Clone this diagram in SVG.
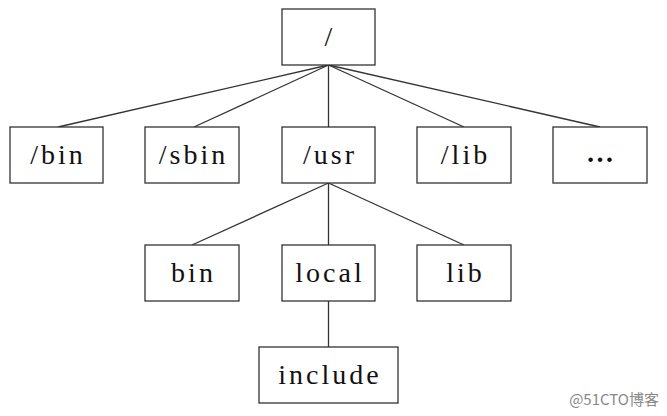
<svg xmlns="http://www.w3.org/2000/svg" width="667" height="416" viewBox="0 0 667 416">
<style>
.b{fill:#fff;stroke:#333;stroke-width:1.3}
.t{font-family:"Liberation Serif","DejaVu Serif",serif;font-size:28px;letter-spacing:3px;fill:#111;text-anchor:middle}
.c line{stroke:#333;stroke-width:1.3}
.w{font-family:"Noto Sans CJK SC",sans-serif;font-size:15px;fill:#888;text-anchor:end}
</style>
<rect width="667" height="416" fill="#fff"/>
<g class="c" id="connectors">
<line x1="328.5" y1="65" x2="58" y2="127"/>
<line x1="328.5" y1="65" x2="194" y2="127"/>
<line x1="328.5" y1="65" x2="328.5" y2="127"/>
<line x1="328.5" y1="65" x2="464" y2="127"/>
<line x1="328.5" y1="65" x2="600" y2="127"/>
<line x1="328.5" y1="183" x2="192" y2="245"/>
<line x1="328.5" y1="183" x2="328.5" y2="245"/>
<line x1="328.5" y1="183" x2="464" y2="245"/>
<line x1="328.5" y1="301" x2="328.5" y2="347"/>
</g>
<g id="root"><rect class="b" x="282" y="9" width="93" height="56"/><text class="t" x="330" y="46">/</text></g>
<g id="bin1"><rect class="b" x="10" y="127" width="93" height="56"/><text class="t" x="58" y="164">/bin</text></g>
<g id="sbin"><rect class="b" x="145" y="127" width="94" height="56"/><text class="t" x="193.5" y="164">/sbin</text></g>
<g id="usr"><rect class="b" x="282" y="127" width="93" height="56"/><text class="t" x="330" y="164">/usr</text></g>
<g id="lib1"><rect class="b" x="417" y="127" width="94" height="56"/><text class="t" x="465.5" y="164">/lib</text></g>
<g id="more"><rect class="b" x="553" y="127" width="94" height="56"/><text class="t" x="600" y="162" style="font-weight:bold;letter-spacing:0">…</text></g>
<g id="bin2"><rect class="b" x="145" y="245" width="94" height="56"/><text class="t" x="193.5" y="282">bin</text></g>
<g id="local"><rect class="b" x="282" y="245" width="93" height="56"/><text class="t" x="330" y="282">local</text></g>
<g id="lib2"><rect class="b" x="417" y="245" width="94" height="56"/><text class="t" x="465.5" y="282">lib</text></g>
<g id="include"><rect class="b" x="259" y="347" width="139" height="56"/><text class="t" x="330" y="384">include</text></g>
<text class="w" x="659" y="405">@51CTO博客</text>
</svg>
